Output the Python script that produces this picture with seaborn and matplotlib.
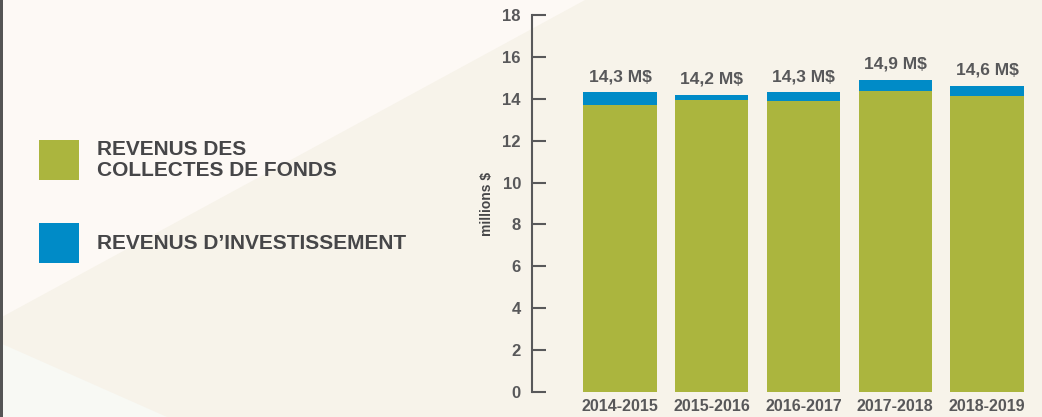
import pandas as pd
import numpy as np
import matplotlib
matplotlib.use("Agg")
import matplotlib.pyplot as plt
from matplotlib.patches import Polygon, Rectangle
import seaborn as sns

# values (millions $)
years = ["2014-2015", "2015-2016", "2016-2017", "2017-2018", "2018-2019"]
fundraising = [13.7, 13.95, 13.9, 14.35, 14.15]
investment = [0.6, 0.25, 0.4, 0.55, 0.45]
total_labels = ["14,3 M$", "14,2 M$", "14,3 M$", "14,9 M$", "14,6 M$"]
legend_labels = ["REVENUS DES\nCOLLECTES DE FONDS", "REVENUS D\u2019INVESTISSEMENT"]

green = "#abb53e"
blue = "#008bc7"
text_grey = "#464648"
axis_grey = "#58585a"
bg = "#f7f3ea"

sns.set_style("white")
plt.rcParams["font.family"] = ["Liberation Sans Narrow", "Liberation Sans", "DejaVu Sans"]
plt.rcParams["font.weight"] = "bold"

df = pd.DataFrame({"year": years, "fund": fundraising, "inv": investment})
df["total"] = df["fund"] + df["inv"]

fig = plt.figure(figsize=(10.42, 4.17), dpi=100)
fig.patch.set_facecolor(bg)

# background shapes
fig.add_artist(Polygon([(0, 1), (585 / 1042, 1), (0, 1 - 318 / 417)], closed=True,
                       transform=fig.transFigure, facecolor="#fdf9f5", edgecolor="none", zorder=-10))
fig.add_artist(Polygon([(0, 1 - 343 / 417), (167 / 1042, 0), (0, 0)], closed=True,
                       transform=fig.transFigure, facecolor="#f8f9f4", edgecolor="none", zorder=-10))
fig.add_artist(Rectangle((0, 0), 3 / 1042, 1, transform=fig.transFigure,
                         facecolor="#555555", edgecolor="none", zorder=-9))

ax = fig.add_axes([532 / 1042, 25 / 417, 510 / 1042, 377 / 417])
ax.set_facecolor("none")

sns.barplot(data=df, x="year", y="total", color=blue, width=0.8, saturation=1,
            linewidth=0, edgecolor="none", ax=ax)
sns.barplot(data=df, x="year", y="fund", color=green, width=0.8, saturation=1,
            linewidth=0, edgecolor="none", ax=ax)

for i, lab in enumerate(total_labels):
    ax.annotate(lab, (i, df["total"][i]), xytext=(0, 6), textcoords="offset points",
                ha="center", va="bottom", fontsize=12.5, fontweight="bold", color=axis_grey)

ax.set_xlim(-0.96, 4.6)
ax.set_ylim(0, 18)
ax.set_yticks(np.arange(0, 19, 2))
for s in ["top", "right", "bottom"]:
    ax.spines[s].set_visible(False)
ax.spines["left"].set_color(axis_grey)
ax.spines["left"].set_linewidth(1.5)
ax.tick_params(axis="y", left=True, direction="in", length=10, width=1.5, color=axis_grey,
               labelsize=12, labelcolor=axis_grey, pad=8)
ax.tick_params(axis="x", bottom=False, length=0, labelsize=11.5, labelcolor=axis_grey, pad=5)
for t in ax.get_xticklabels() + ax.get_yticklabels():
    t.set_fontweight("bold")
ax.set_xlabel("")
ax.set_ylabel("millions $", fontsize=10, fontweight="bold", color=text_grey, labelpad=6)

# legend
for j, (lab, col) in enumerate(zip(legend_labels, [green, blue])):
    y0 = (417 - 180 - j * 83) / 417
    fig.add_artist(Rectangle((39 / 1042, y0), 40 / 1042, 40 / 417, transform=fig.transFigure,
                             facecolor=col, edgecolor="none"))
    fig.text(97 / 1042, y0 + 20 / 417, lab, ha="left", va="center", fontsize=15,
             fontweight="bold", color=text_grey, linespacing=1.1)

fig.savefig("out.png", dpi=100, facecolor=bg)
